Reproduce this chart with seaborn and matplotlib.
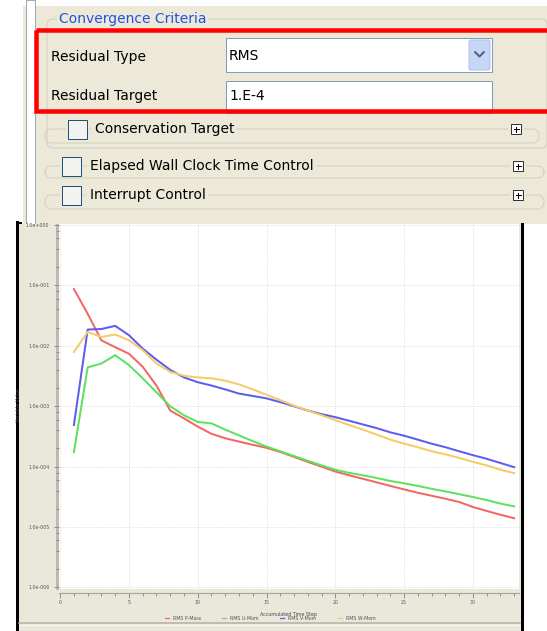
import numpy as np
import pandas as pd
import matplotlib
matplotlib.use("Agg")
import matplotlib.pyplot as plt
from matplotlib.patches import Rectangle, FancyBboxPatch
from matplotlib.ticker import FixedLocator, FuncFormatter, NullFormatter
import seaborn as sns

# ---------------- data ----------------
steps = list(range(1, 34))
rms_p_mass = [8.7e-2, 3.4e-2, 1.23e-2, 9.5e-3, 7.4e-3, 4.5e-3, 2.2e-3, 8.5e-4, 6.3e-4, 4.6e-4,
              3.5e-4, 2.95e-4, 2.6e-4, 2.3e-4, 2.05e-4, 1.75e-4, 1.45e-4, 1.2e-4, 1.0e-4, 8.3e-5,
              7.2e-5, 6.3e-5, 5.5e-5, 4.8e-5, 4.2e-5, 3.7e-5, 3.3e-5, 2.95e-5, 2.6e-5, 2.15e-5,
              1.85e-5, 1.6e-5, 1.4e-5]
rms_u_mom = [1.74e-4, 4.4e-3, 5.1e-3, 7.0e-3, 4.8e-3, 2.9e-3, 1.7e-3, 1.0e-3, 7.1e-4, 5.5e-4,
             5.2e-4, 4.1e-4, 3.3e-4, 2.65e-4, 2.15e-4, 1.8e-4, 1.5e-4, 1.25e-4, 1.05e-4, 8.9e-5,
             7.9e-5, 7.2e-5, 6.5e-5, 5.8e-5, 5.3e-5, 4.8e-5, 4.3e-5, 3.9e-5, 3.5e-5, 3.15e-5,
             2.8e-5, 2.45e-5, 2.2e-5]
rms_v_mom = [4.9e-4, 1.86e-2, 1.9e-2, 2.14e-2, 1.5e-2, 9.0e-3, 5.9e-3, 4.0e-3, 3.0e-3, 2.5e-3,
             2.2e-3, 1.9e-3, 1.62e-3, 1.48e-3, 1.35e-3, 1.17e-3, 1.0e-3, 8.5e-4, 7.4e-4, 6.6e-4,
             5.75e-4, 5.0e-4, 4.35e-4, 3.7e-4, 3.25e-4, 2.8e-4, 2.4e-4, 2.1e-4, 1.8e-4, 1.55e-4,
             1.35e-4, 1.15e-4, 9.8e-5]
rms_w_mom = [7.9e-3, 1.7e-2, 1.4e-2, 1.54e-2, 1.24e-2, 8.5e-3, 5.1e-3, 3.7e-3, 3.2e-3, 3.0e-3,
             2.9e-3, 2.65e-3, 2.3e-3, 1.9e-3, 1.55e-3, 1.26e-3, 1.02e-3, 8.5e-4, 7.1e-4, 5.9e-4,
             4.9e-4, 4.1e-4, 3.4e-4, 2.8e-4, 2.4e-4, 2.1e-4, 1.8e-4, 1.6e-4, 1.4e-4, 1.2e-4,
             1.05e-4, 8.9e-5, 7.8e-5]
series_names = ["RMS P-Mass", "RMS U-Mom", "RMS V-Mom", "RMS W-Mom"]
series_colors = ["#F26666", "#5EE25E", "#5C5CEE", "#F5CB66"]
x_ticks = [0, 5, 10, 15, 20, 25, 30]
y_ticks = [1e-6, 1e-5, 1e-4, 1e-3, 1e-2, 1e-1, 1e0]

# GUI texts
gui_title = "Convergence Criteria"
gui_labels = ["Residual Type", "Residual Target"]
gui_values = ["RMS", "1.E-4"]
gui_options = ["Conservation Target", "Elapsed Wall Clock Time Control", "Interrupt Control"]

df = pd.DataFrame({
    "Accumulated Time Step": steps * 4,
    "Variable Value": rms_p_mass + rms_u_mom + rms_v_mom + rms_w_mom,
    "Series": sum([[n] * len(steps) for n in series_names], []),
})

W, H = 547, 631
fig = plt.figure(figsize=(W / 100, H / 100), dpi=100)
fig.patch.set_facecolor("white")
PX = 72 / 100  # points per pixel

# ---------------- background / GUI layer ----------------
bg = fig.add_axes([0, 0, 1, 1])
bg.set_xlim(0, W)
bg.set_ylim(H, 0)
bg.axis("off")

beige = "#ECE9D8"
bg.add_patch(Rectangle((23, 6), W - 23, 218, facecolor=beige, edgecolor="none"))
bg.add_patch(Rectangle((26, 0), 9, 224, facecolor="white", edgecolor="#9EA8B6", lw=1 * PX))

# outer group box
bg.add_patch(FancyBboxPatch((47, 19), 500, 129, boxstyle="round,pad=0,rounding_size=6",
                            facecolor="none", edgecolor="#D3D0C2", lw=1 * PX))
bg.text(59, 19, gui_title, color="#2352E0", fontsize=10, va="center", ha="left",
        bbox=dict(facecolor=beige, edgecolor="none", pad=1.5))

# labels and fields
bg.text(51, 57, gui_labels[0], fontsize=10, va="center", ha="left", color="black")
bg.text(51, 96, gui_labels[1], fontsize=10, va="center", ha="left", color="black")
bg.add_patch(Rectangle((226, 38), 266, 34, facecolor="white", edgecolor="#7F9DB9", lw=1 * PX))
bg.add_patch(FancyBboxPatch((469, 40), 21, 30, boxstyle="round,pad=0,rounding_size=2",
                            facecolor="#C6D6F7", edgecolor="#AFC3EB", lw=1 * PX))
bg.plot([475, 479.5, 484], [52, 56.5, 52], color="#4D6185", lw=2 * PX, solid_capstyle="round")
bg.text(229, 56, gui_values[0], fontsize=10, va="center", ha="left", color="black")
bg.add_patch(Rectangle((226, 81), 266, 32, facecolor="white", edgecolor="#7F9DB9", lw=1 * PX))
bg.text(229, 96, gui_values[1], fontsize=10, va="center", ha="left", color="black")

# red highlight rectangle
bg.add_patch(Rectangle((36, 30), 540, 81, facecolor="none", edgecolor="#FF0000", lw=4.5 * PX))

# option capsules
rows = [
    (129, 143, 45, 539, 68, 95, 511),
    (166, 178, 45, 544, 62, 90, 513),
    (195, 209, 45, 544, 62, 90, 513),
]
for (yc, yb, x0, x1, cbx, tx, px), label in zip(rows, gui_options):
    bg.add_patch(FancyBboxPatch((x0, yc), x1 - x0, yb - yc,
                                boxstyle="round,pad=0,rounding_size=7",
                                facecolor="none", edgecolor="#D3D0C2", lw=1 * PX))
    bg.add_patch(Rectangle((cbx - 2, yc - 11), 23, 22, facecolor=beige, edgecolor="none"))
    bg.add_patch(Rectangle((cbx, yc - 9.5), 19, 19, facecolor="#F2F2EE",
                           edgecolor="#1C5180", lw=1 * PX))
    bg.text(tx, yc, label, fontsize=10, va="center", ha="left", color="black",
            bbox=dict(facecolor=beige, edgecolor="none", pad=2))
    bg.add_patch(Rectangle((px - 3, yc - 7), 16, 14, facecolor=beige, edgecolor="none"))
    bg.add_patch(Rectangle((px, yc - 5), 10, 10, facecolor="white", edgecolor="#333333", lw=1 * PX))
    bg.plot([px + 2.5, px + 7.5], [yc, yc], color="black", lw=1 * PX)
    bg.plot([px + 5, px + 5], [yc - 2.5, yc + 2.5], color="black", lw=1 * PX)

# chart screenshot background
chart_bg = "#EAE8DB"
bg.add_patch(Rectangle((17, 224), 505, H - 224, facecolor=chart_bg, edgecolor="none"))
bg.plot([17, 17], [222, H], color="black", lw=3 * PX)
bg.plot([17, 21], [223, 223], color="black", lw=2 * PX)
bg.plot([522, 522], [224, H], color="black", lw=3 * PX)
bg.plot([19, 520], [623, 623], color="#B2AFA2", lw=1.5 * PX)
bg.plot([19, 520], [625, 625], color="#F7F6F0", lw=1 * PX)
bg.add_patch(Rectangle((55.5, 224), 3, 366, facecolor="#BDBAAD", edgecolor="none"))

# ---------------- chart ----------------
L, R, T, B = 58.5, 519, 224, 589
ax = fig.add_axes([L / W, 1 - B / H, (R - L) / W, (B - T) / H])
ax.set_facecolor("white")
sns.lineplot(data=df, x="Accumulated Time Step", y="Variable Value", hue="Series",
             palette=dict(zip(series_names, series_colors)), linewidth=2 * PX,
             ax=ax, legend=False)
ax.set_yscale("log")
ax.set_xlim(-0.12, 33.35)
ax.set_ylim(10 ** (-6 - 1.5 / 60.3), 10 ** (1 / 60.3))

ax.xaxis.set_major_locator(FixedLocator(x_ticks))
ax.xaxis.set_minor_locator(FixedLocator(list(range(0, 34))))
minor_y = [m * 10.0 ** e for e in range(-6, 0) for m in (2, 4, 6, 8)]
ax.yaxis.set_major_locator(FixedLocator(y_ticks))
ax.yaxis.set_minor_locator(FixedLocator(minor_y))
ax.yaxis.set_minor_formatter(NullFormatter())


def yfmt(v, pos):
    e = int(round(np.log10(v)))
    return f"1.0e{e:+04d}"


ax.yaxis.set_major_formatter(FuncFormatter(yfmt))
ax.grid(True, which="major", color="#E4E4E4", lw=0.8 * PX, ls=(0, (2, 1)))
for s in ["top", "right", "left"]:
    ax.spines[s].set_visible(False)
ax.spines["bottom"].set_position(("outward", 3))
ax.spines["bottom"].set_color("#A8A8A0")
ax.spines["bottom"].set_linewidth(1.2 * PX)
ax.tick_params(axis="both", which="major", labelsize=3.4, labelcolor="#555555",
               color="#909090", length=5 * PX, width=1 * PX, pad=1.5)
ax.tick_params(axis="both", which="minor", color="#909090", length=3 * PX, width=1 * PX)
ax.tick_params(axis="y", which="both", pad=3)

ax.set_xlabel("Accumulated Time Step", fontsize=3.4, color="#444444")
ax.xaxis.set_label_coords((288 - L) / (R - L), (B - 612) / (B - T))
ax.set_ylabel("Variable Value", fontsize=3.4, color="#444444")
ax.yaxis.set_label_coords((21 - L) / (R - L), (B - 405) / (B - T))

handles = [plt.Line2D([], [], color=c, lw=1.2 * PX) for c in series_colors]
fig.legend(handles, series_names, loc="center", bbox_to_anchor=(270 / W, 1 - 618 / H),
           ncol=4, fontsize=3.4, frameon=False, handlelength=0.9, handletextpad=0.8,
           columnspacing=4.5, labelcolor="#555555")

fig.savefig("out.png", dpi=100, facecolor=fig.get_facecolor())
